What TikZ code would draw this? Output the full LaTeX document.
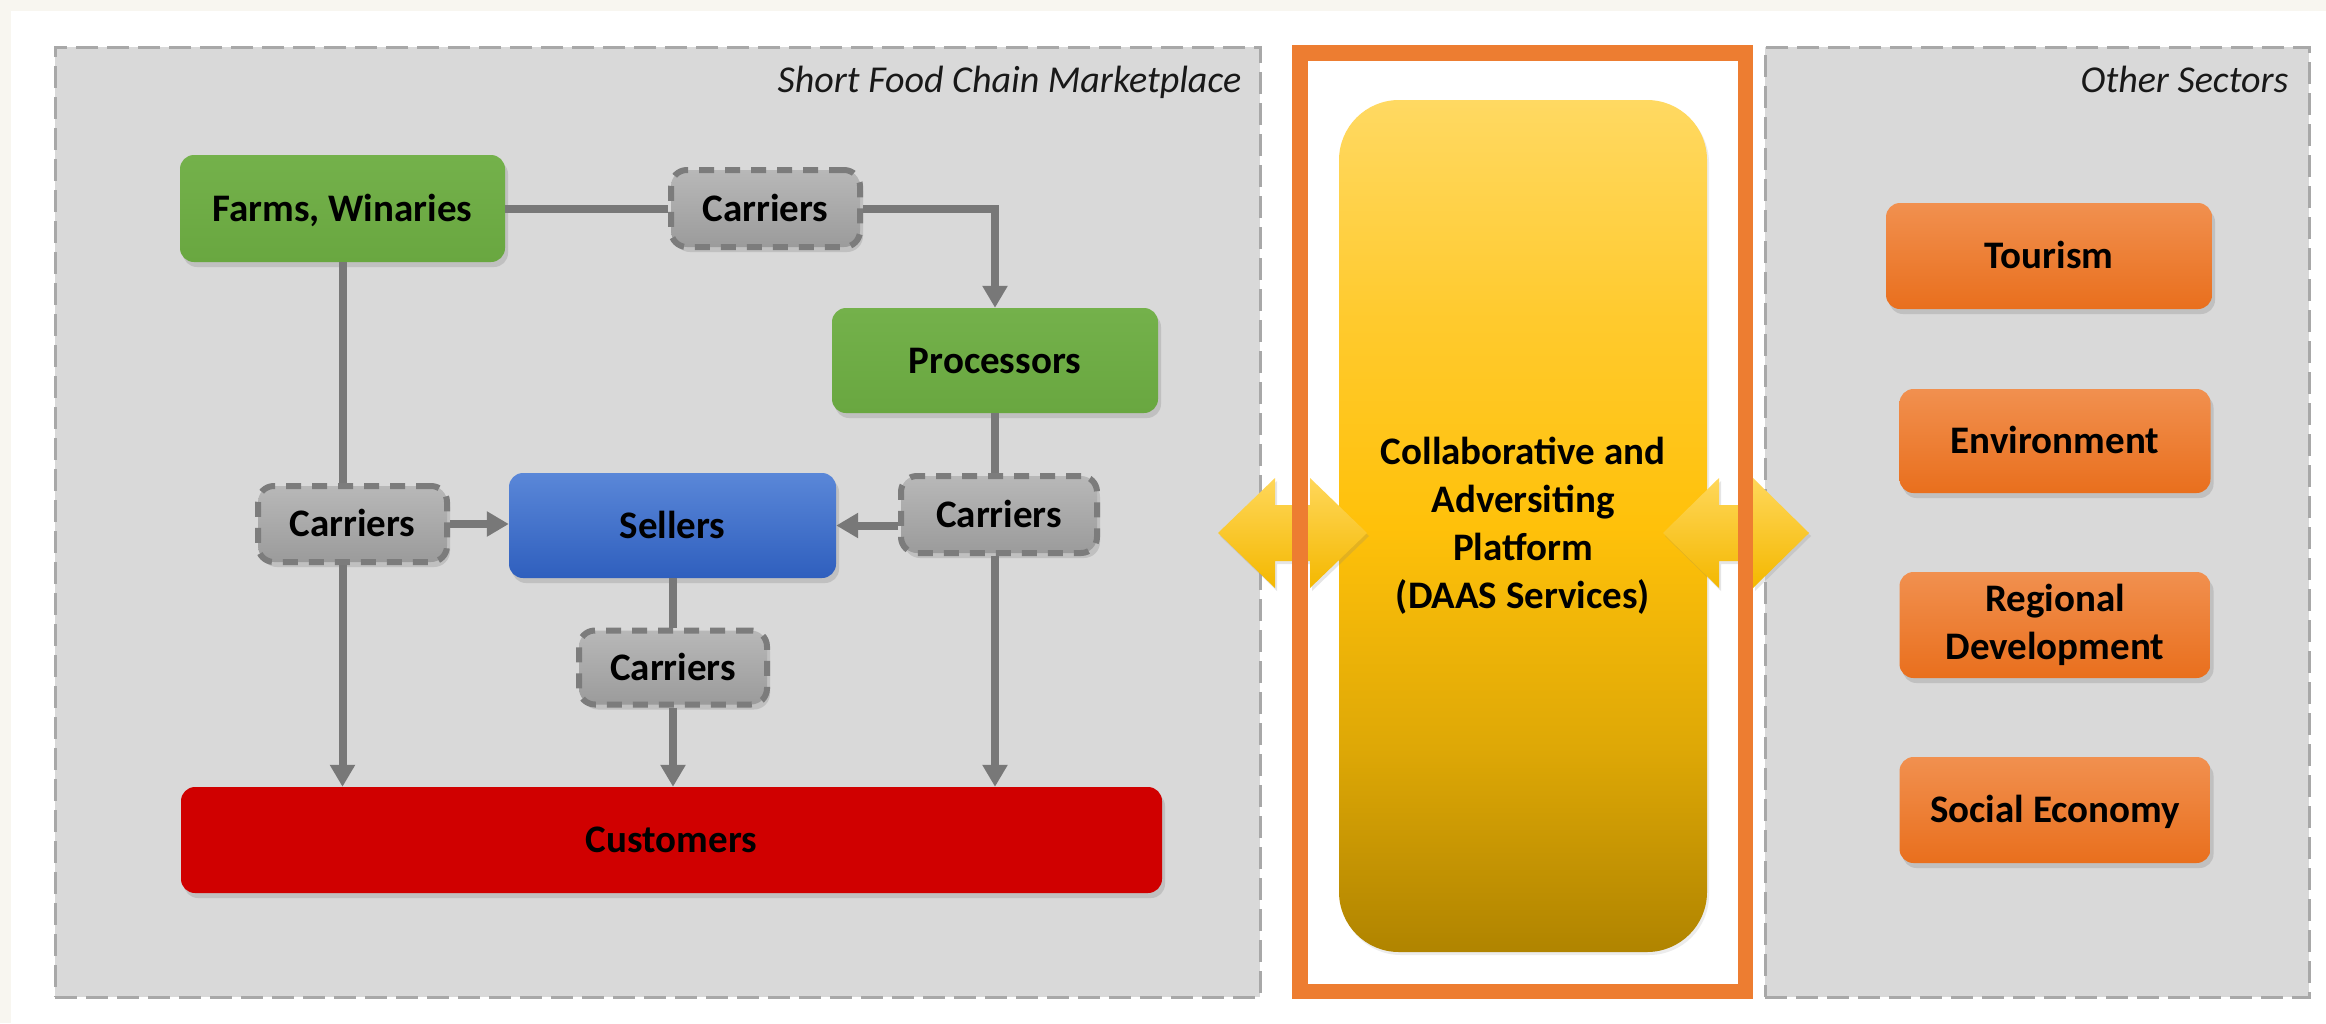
\documentclass[tikz,border=0pt]{standalone}
\usepackage{fontspec}
\setmainfont{Carlito}
\usetikzlibrary{arrows.meta,shadows,calc}
\definecolor{cream}{HTML}{F8F6F0}
\definecolor{panelF}{HTML}{D9D9D9}
\definecolor{panelD}{HTML}{A8A8A8}
\definecolor{frameC}{HTML}{ED7D31}
\definecolor{lineC}{HTML}{787878}
\definecolor{grnT}{HTML}{74B14B}
\definecolor{grnB}{HTML}{69A740}
\definecolor{bluT}{HTML}{5A87D8}
\definecolor{bluB}{HTML}{2F5FBE}
\definecolor{carT}{HTML}{B8B8B8}
\definecolor{carB}{HTML}{9B9B9B}
\definecolor{carD}{HTML}{7C7C7C}
\definecolor{orT}{HTML}{F1904F}
\definecolor{orB}{HTML}{E96F1D}
\definecolor{redC}{HTML}{D00000}
\definecolor{arrT}{HTML}{FFD75A}
\definecolor{arrB}{HTML}{F4B800}
\pgfdeclareverticalshading{platshade}{100bp}{%
  color(0bp)=(rgb,255:red,176;green,132;blue,0);
  color(25bp)=(rgb,255:red,176;green,132;blue,0);
  color(37bp)=(rgb,255:red,222;green,168;blue,6);
  color(50bp)=(rgb,255:red,255;green,193;blue,10);
  color(62bp)=(rgb,255:red,255;green,202;blue,45);
  color(75bp)=(rgb,255:red,255;green,217;blue,98);
  color(100bp)=(rgb,255:red,255;green,217;blue,98)}
\tikzset{
  lbl/.style={font=\fontsize{39}{48}\selectfont\bfseries, text=black, align=center},
  one/.style={text height=25pt, text depth=0pt},
  box/.style={lbl, rectangle, rounded corners=14pt, inner sep=0pt,
    drop shadow={shadow xshift=3pt, shadow yshift=-5pt, opacity=0.28}},
  greenbox/.style={box, top color=grnT, bottom color=grnB},
  bluebox/.style={box, top color=bluT, bottom color=bluB},
  orbox/.style={box, top color=orT, bottom color=orB},
  redbox/.style={box, fill=redC},
  carrier/.style={box, one, top color=carT, bottom color=carB, draw=carD,
    line width=6pt, dash pattern=on 15pt off 11pt, rounded corners=16pt},
  panel/.style={fill=panelF, draw=panelD, line width=3pt, dash pattern=on 22pt off 9pt,
    minimum height=950pt, inner sep=0pt},
  paneltitle/.style={font=\fontsize{38}{46}\selectfont\itshape, text=black!90, inner sep=0pt},
  link/.style={draw=lineC, line width=8pt},
  arr/.style={link, -{Triangle[width=24pt,length=22pt]}},
  dblarrow/.style={top color=arrT, bottom color=arrB,
    drop shadow={shadow xshift=2pt, shadow yshift=-3pt, opacity=0.2}},
}
\begin{document}
\begin{tikzpicture}[x=1pt,y=-1pt]
\useasboundingbox (0,0) rectangle (2326,1023);
\fill[cream] (0,0) rectangle (2326,1023);
\fill[white] (11,11) rectangle (2326,1023);

% panels
\node[panel, minimum width=1205pt] (lp) at (657.5,522) {};
\node[panel, minimum width=544pt] (rp) at (2037,522) {};
\node[paneltitle, anchor=base east] (lpt) at ($(lp.north east)+(-20,47)$) {Short Food Chain Marketplace};
\node[paneltitle, anchor=base east] (rpt) at ($(rp.north east)+(-22,47)$) {Other Sectors};

% platform
\node[lbl, rounded corners=60pt, shading=platshade,
  minimum width=368pt, minimum height=852pt, inner sep=0pt,
  drop shadow={shadow xshift=2pt, shadow yshift=-3pt, opacity=0.15}] (plat) at (1523,526)
  {Collaborative and\\Adversiting\\Platform\\(DAAS Services)};

% double arrows
\path[dblarrow] (1218,533) -- (1275,478) -- (1275,505) -- (1310,505) -- (1310,478) -- (1367,533)
  -- (1310,588) -- (1310,561) -- (1275,561) -- (1275,588) -- cycle;
\path[dblarrow] (1663,533) -- (1719,478) -- (1719,505) -- (1753,505) -- (1753,478) -- (1809,533)
  -- (1753,588) -- (1753,561) -- (1719,561) -- (1719,588) -- cycle;

% orange frame
\node[draw=frameC, line width=15.5pt, minimum width=445.5pt, minimum height=938.5pt, inner sep=0pt] (frame) at (1522.5,522) {};

% food chain nodes
\node[greenbox, one, minimum width=325pt, minimum height=107pt] (farms) at (342.5,208.5) {Farms, Winaries};
\node[carrier, minimum width=189pt, minimum height=77pt] (c1) at (765.5,208.5) {Carriers};
\node[greenbox, one, minimum width=326pt, minimum height=105pt] (proc) at (995,360.5) {Processors};
\node[carrier, minimum width=189pt, minimum height=76pt] (c2) at (352.5,524) {Carriers};
\node[bluebox, one, minimum width=327pt, minimum height=105pt] (sell) at (672.5,525.5) {Sellers};
\node[carrier, minimum width=196pt, minimum height=77pt] (c3) at (999,514.5) {Carriers};
\node[carrier, minimum width=188pt, minimum height=74pt] (c4) at (673,667.5) {Carriers};
\node[redbox, one, minimum width=981pt, minimum height=106pt] (cust) at (671.5,840) {Customers};

% sectors
\node[orbox, one, minimum width=326pt, minimum height=106pt] (tour) at (2049,256) {Tourism};
\node[orbox, one, minimum width=311pt, minimum height=104pt] (env) at (2055,441) {Environment};
\node[orbox, minimum width=311pt, minimum height=106pt] (reg) at (2055,625) {Regional\\Development};
\node[orbox, one, minimum width=311pt, minimum height=106pt] (soc) at (2055,810) {Social Economy};

% connectors
\draw[link] (farms.east) -- (c1.west);
\draw[arr] (c1.east) -| (proc.north);
\draw[link] (farms.south) -- (farms.south |- c2.north);
\draw[arr] (c2.east) -- (c2.east -| sell.west);
\draw[arr] (farms.south |- c2.south) -- (farms.south |- cust.north);
\draw[link] (proc.south) -- (proc.south |- c3.north);
\draw[arr] (c3.west |- sell.east) -- (sell.east);
\draw[arr] (proc.south |- c3.south) -- (proc.south |- cust.north);
\draw[link] (sell.south) -- (sell.south |- c4.north);
\draw[arr] (c4.south) -- (c4.south |- cust.north);
\end{tikzpicture}
\end{document}
